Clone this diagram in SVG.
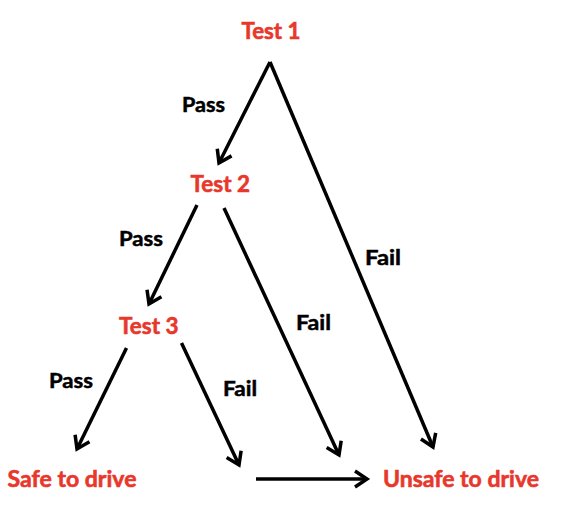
<svg xmlns="http://www.w3.org/2000/svg" width="563" height="513" viewBox="0 0 563 513">
<style>
.node{font-family:Lato,"Open Sans","Liberation Sans",sans-serif;font-weight:bold;font-size:23px;fill:#e8372b;stroke:#e8372b;stroke-width:0.6;}
.lbl{font-family:Lato,"Open Sans","Liberation Sans",sans-serif;font-weight:bold;font-size:21px;fill:#000;stroke:#000;stroke-width:0.5;}
.edge{stroke:#000;stroke-width:3.5;fill:none;marker-end:url(#arr);}
</style>
<defs>
<marker id="arr" markerUnits="userSpaceOnUse" markerWidth="30" markerHeight="30" viewBox="-15 -15 30 30" refX="0" refY="0" orient="auto">
<path d="M-12,-8 L0,0 L-12,8" fill="none" stroke="#000" stroke-width="3.5"/>
</marker>
</defs>
<rect width="563" height="513" fill="#fff"/>
<g id="connectors">
<line class="edge" x1="270" y1="62" x2="219" y2="163"/>
<line class="edge" x1="270" y1="62" x2="433" y2="447"/>
<line class="edge" x1="197" y1="205" x2="149" y2="304"/>
<line class="edge" x1="224" y1="208" x2="339" y2="455"/>
<line class="edge" x1="126.5" y1="348" x2="77" y2="449"/>
<line class="edge" x1="181.5" y1="343" x2="239" y2="465"/>
<line class="edge" x1="256" y1="479" x2="367" y2="479"/>
</g>
<g id="edge-labels">
<text class="lbl" x="182" y="112" textLength="43" lengthAdjust="spacingAndGlyphs">Pass</text>
<text class="lbl" x="365" y="265" textLength="36" lengthAdjust="spacingAndGlyphs">Fail</text>
<text class="lbl" x="119" y="246" textLength="44" lengthAdjust="spacingAndGlyphs">Pass</text>
<text class="lbl" x="296" y="330" textLength="35" lengthAdjust="spacingAndGlyphs">Fail</text>
<text class="lbl" x="49" y="388" textLength="44" lengthAdjust="spacingAndGlyphs">Pass</text>
<text class="lbl" x="223" y="396" textLength="34" lengthAdjust="spacingAndGlyphs">Fail</text>
</g>
<g id="test1"><text class="node" x="241.5" y="39" textLength="59" lengthAdjust="spacingAndGlyphs">Test 1</text></g>
<g id="test2"><text class="node" x="190.5" y="192" textLength="59.5" lengthAdjust="spacingAndGlyphs">Test 2</text></g>
<g id="test3"><text class="node" x="119" y="334" textLength="59.5" lengthAdjust="spacingAndGlyphs">Test 3</text></g>
<g id="safe"><text class="node" x="7.5" y="487" textLength="129" lengthAdjust="spacingAndGlyphs">Safe to drive</text></g>
<g id="unsafe"><text class="node" x="383" y="487" textLength="156" lengthAdjust="spacingAndGlyphs">Unsafe to drive</text></g>
</svg>
